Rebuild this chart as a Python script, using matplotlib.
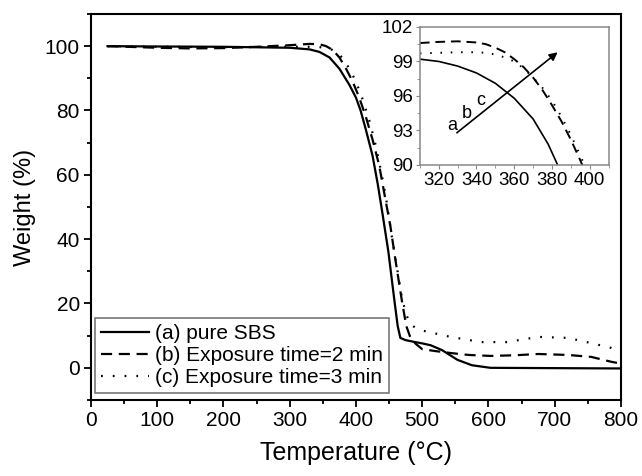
import numpy as np
import matplotlib.pyplot as plt
from matplotlib.ticker import MultipleLocator

plt.rcParams['font.family'] = ['Liberation Sans', 'DejaVu Sans']

# Main TGA curves
temp_a = [25, 100, 200, 300, 330, 345, 360, 375, 390, 400, 407, 415, 425, 433, 440,
          449, 458, 463, 467, 475, 487, 500, 513, 530, 553, 575, 603, 700, 800]
weight_a = [100, 99.9, 99.8, 99.5, 99.0, 98.2, 96.5, 93, 88, 84, 80, 74, 66, 57, 48,
            36, 21, 13, 9.3, 8.6, 8.1, 7.6, 7.0, 5.5, 2.5, 0.8, 0, -0.1, -0.2]

temp_b = [25, 100, 150, 200, 250, 300, 330, 345, 355, 365, 375, 385, 395, 405, 415,
          425, 435, 443, 452, 460, 470, 476, 482, 490, 500, 520, 543, 570, 603, 640,
          675, 720, 755, 785, 800]
weight_b = [100, 99.5, 99.3, 99.4, 99.8, 100.3, 100.7, 100.6, 100.0, 98.8, 96.5, 93,
            89, 84, 78, 71, 63, 54, 44, 33, 20, 13, 9.5, 7.5, 5.8, 5.2, 4.6, 4.0, 3.7,
            3.9, 4.3, 4.0, 3.4, 1.9, 1.3]

temp_c = [25, 100, 200, 300, 330, 345, 360, 370, 380, 390, 400, 410, 420, 430, 438,
          446, 454, 462, 470, 477, 483, 490, 500, 517, 543, 589, 628, 675, 720, 755,
          785, 800]
weight_c = [100, 99.8, 99.7, 99.8, 99.8, 99.7, 99.3, 98.2, 96.3, 93, 89, 83.5, 77, 69,
            61, 52, 41, 31, 21, 16, 13.5, 12.4, 11.6, 10.8, 9.6, 8.0, 8.0, 9.6, 9.3,
            7.7, 6.2, 5.0]

labels = ["(a) pure SBS", "(b) Exposure time=2 min", "(c) Exposure time=3 min"]

# Inset (zoom on onset of decomposition)
ins_temp_a = [310, 320, 330, 340, 350, 360, 370, 378, 383, 390]
ins_weight_a = [99.2, 99.0, 98.6, 98.0, 97.1, 95.8, 94.0, 91.8, 90.0, 87.5]
ins_temp = [310, 320, 330, 340, 345, 350, 355, 360, 365, 370, 375, 380, 385, 390, 395, 400]
ins_weight_b = [100.6, 100.7, 100.75, 100.65, 100.5, 100.2, 99.8, 99.2, 98.5, 97.6,
                96.5, 95.2, 93.8, 92.2, 90.4, 88.5]
ins_weight_c = [99.7, 99.75, 99.8, 99.8, 99.75, 99.6, 99.35, 99.0, 98.4, 97.6,
                96.7, 95.6, 94.2, 92.6, 90.8, 89.0]

dash_b = (5, 3)
dot_c = (0.8, 4.5)

fig = plt.figure(figsize=(6.42, 4.76), dpi=100)
ax = fig.add_axes([0.1417, 0.1597, 0.8255, 0.8109])

ax.plot(temp_a, weight_a, color='black', lw=1.6, label=labels[0])
ax.plot(temp_b, weight_b, color='black', lw=1.6, dashes=dash_b, label=labels[1])
ax.plot(temp_c, weight_c, color='black', lw=1.6, dashes=dot_c, label=labels[2])

ax.set_xlim(0, 800)
ax.set_ylim(-10, 110)
ax.xaxis.set_major_locator(MultipleLocator(100))
ax.xaxis.set_minor_locator(MultipleLocator(50))
ax.yaxis.set_major_locator(MultipleLocator(20))
ax.yaxis.set_minor_locator(MultipleLocator(10))
ax.tick_params(which='both', direction='out', width=1.3, labelsize=15, pad=3)
ax.tick_params(which='major', length=5)
ax.tick_params(which='minor', length=3)
for s in ax.spines.values():
    s.set_linewidth(1.5)
ax.set_xlabel("Temperature (°C)", fontsize=18, labelpad=8)
ax.set_ylabel("Weight (%)", fontsize=17, labelpad=6)

leg = ax.legend(loc='lower left', bbox_to_anchor=(0.008, 0.017), borderaxespad=0,
                fontsize=15, handlelength=2.3, handletextpad=0.25, labelspacing=0.15,
                fancybox=False, edgecolor='#777777', framealpha=1, borderpad=0.3)
leg.get_frame().set_linewidth(1.2)

# Inset
axi = fig.add_axes([0.654, 0.6534, 0.294, 0.29])
axi.plot(ins_temp_a, ins_weight_a, color='black', lw=1.2)
axi.plot(ins_temp, ins_weight_b, color='black', lw=1.4, dashes=dash_b)
axi.plot(ins_temp, ins_weight_c, color='black', lw=1.4, dashes=dot_c)
axi.set_xlim(310, 410)
axi.set_ylim(90, 102)
axi.xaxis.set_major_locator(MultipleLocator(20))
axi.xaxis.set_minor_locator(MultipleLocator(10))
axi.yaxis.set_major_locator(MultipleLocator(3))
axi.yaxis.set_minor_locator(MultipleLocator(1.5))
axi.tick_params(which='both', direction='out', color='#888888', labelsize=13.5, pad=2)
axi.tick_params(which='major', length=3)
axi.tick_params(which='minor', length=2)
for s in axi.spines.values():
    s.set_color('#888888')
    s.set_linewidth(1.1)

axi.annotate("", xy=(383, 99.8), xytext=(329.6, 92.8),
             arrowprops=dict(arrowstyle='-|>', color='black', lw=1.2,
                             mutation_scale=12, shrinkA=0, shrinkB=0))
axi.text(327, 93.4, "a", fontsize=13, ha='center', va='center')
axi.text(334.7, 94.5, "b", fontsize=13, ha='center', va='center')
axi.text(342, 95.6, "c", fontsize=13, ha='center', va='center')

fig.savefig("out.png", dpi=100)
